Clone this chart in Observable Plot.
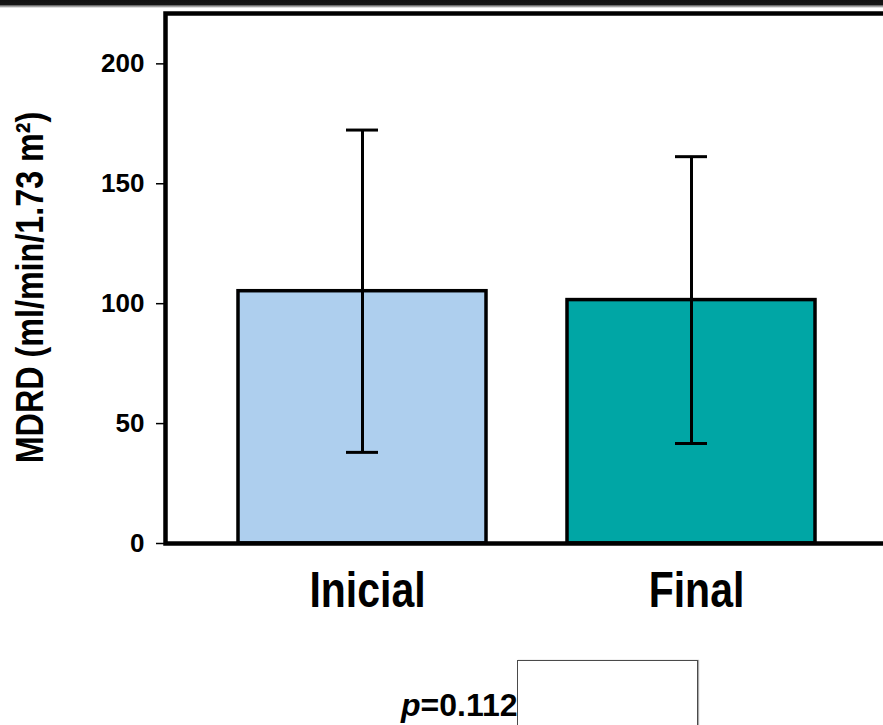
<!DOCTYPE html>
<html><head><meta charset="utf-8">
<script src="https://cdn.jsdelivr.net/npm/d3@7"></script>
<script src="https://cdn.jsdelivr.net/npm/@observablehq/plot@0.6"></script>
<style>
html,body{margin:0;padding:0;background:#fff;overflow:hidden}
#wrap{position:relative;width:883px;height:725px;overflow:hidden;background:#fff}
#topband{position:absolute;left:0;top:0;width:883px;height:8px;background:linear-gradient(#111 0,#151515 4.5px,#6a6a6a 5.5px,#bdbdbd 7px,#fff 8px);z-index:2}
#chart{position:absolute;left:0;top:0;width:900px}
#chart svg{max-width:none}
#caption{position:absolute;left:401px;top:689px;font-family:"Liberation Sans",Arial,sans-serif;font-weight:bold;font-size:32px;line-height:1;color:#000;white-space:nowrap}
#box{position:absolute;left:517px;top:660px;width:181px;height:90px;border:1.5px solid #4a4a4a;box-sizing:border-box;box-shadow:1px 0 1px #aaa}
</style>
</head><body>
<div id="wrap">
  <div id="topband"></div>
  <div id="chart"></div>
  <div id="caption"></div>
  <div id="box"></div>
</div>
<script>
// ---- data ----
const groups = ["Inicial", "Final"];
const means = [105.2, 101.5];
const sds = [67.2, 59.8];
const fills = ["#AECFEE", "#00A6A5"];
const yTicks = [0, 50, 100, 150, 200];
const yLabel = "MDRD (ml/min/1.73 m²)";
const pValue = "0.112";

const data = groups.map((g, i) => ({group: g, mean: means[i], sd: sds[i], fill: fills[i]}));
const sans = "'Liberation Sans',Arial,sans-serif";

const chart = Plot.plot({
  width: 900,
  height: 725,
  marginLeft: 165,
  marginRight: 11,
  marginTop: 13,
  marginBottom: 182,
  style: {background: "transparent", color: "#000", maxWidth: "none"},
  x: {domain: groups, paddingInner: 0.245, paddingOuter: 0.22, axis: null},
  y: {domain: [0, 221], axis: null},
  color: {type: "identity"},
  marks: [
    Plot.barY(data, {x: "group", y: "mean", fill: "fill", stroke: "#000", strokeWidth: 3.5}),
    Plot.ruleX(data, {x: "group", y1: d => d.mean - d.sd, y2: d => d.mean + d.sd, stroke: "#000", strokeWidth: 3}),
    Plot.tickY(data, {x: "group", y: d => d.mean + d.sd, insetLeft: 108, insetRight: 108, stroke: "#000", strokeWidth: 3}),
    Plot.tickY(data, {x: "group", y: d => d.mean - d.sd, insetLeft: 108, insetRight: 108, stroke: "#000", strokeWidth: 3}),
    Plot.frame({stroke: "#000", strokeWidth: 4.5}),
    Plot.axisY({ticks: yTicks, tickSize: 9, tickPadding: 12, strokeWidth: 1.5, fontSize: 26, fontWeight: "bold",
      fontFamily: sans, label: null, tickFormat: d => String(d)}),
    Plot.axisX({tickSize: 0, tickPadding: 28, dx: 5, fontSize: 50, fontWeight: "bold", fontFamily: sans, label: null}),
    Plot.text([yLabel], {text: d => d, frameAnchor: "left", textAnchor: "middle", lineAnchor: "middle",
      rotate: -90, dx: -135, dy: 9, fontSize: 38, fontWeight: "bold", fontFamily: sans, fill: "#000"})
  ]
});
// condensed look (Arial Narrow style) for category labels and y title
const squeeze = (el, k) => {
  const t = el.getAttribute("transform") || "";
  el.setAttribute("transform", t + ` scale(${k},1)`);
};
d3.select(chart).selectAll("g[aria-label='x-axis tick label'] text").each(function() { squeeze(this, 0.82); });
d3.select(chart).selectAll("g[aria-label='text'] text").each(function() { squeeze(this, 0.85); });
document.getElementById("chart").appendChild(chart);
document.getElementById("caption").innerHTML = '<span style="font-style:italic">p</span>=' + pValue;
</script>
</body></html>
